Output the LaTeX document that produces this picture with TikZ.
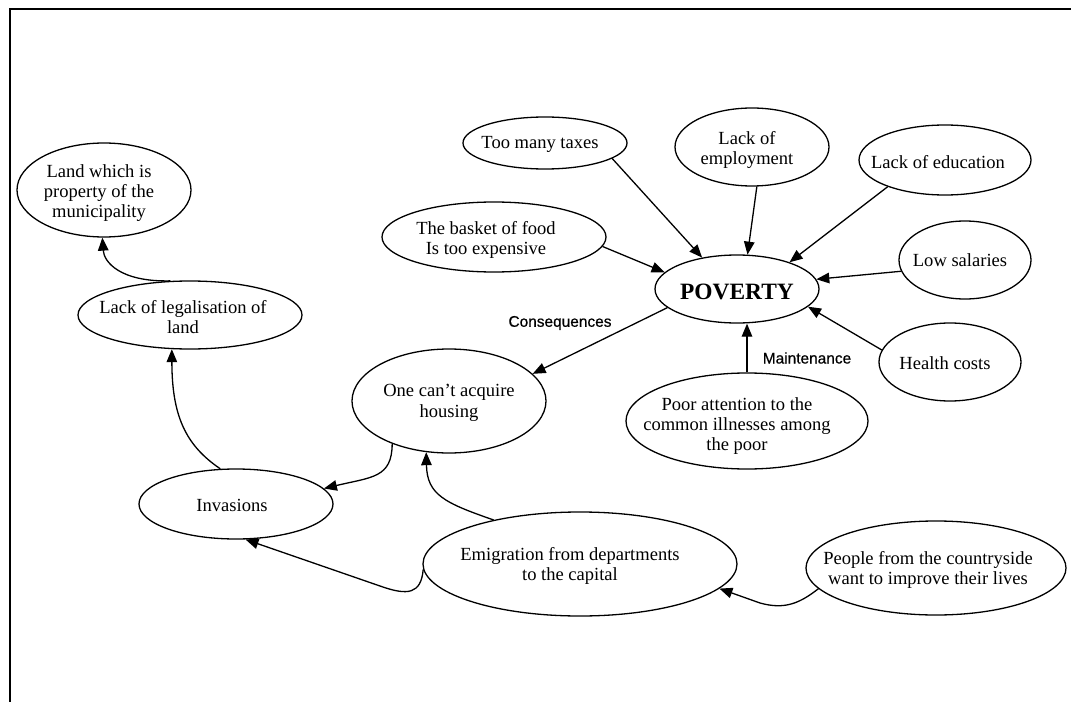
\documentclass[tikz,border=0pt]{standalone}
\usepackage{fontspec}
\setmainfont{Liberation Serif}
\newfontfamily\labfont{Liberation Sans}[FakeBold=0.6]
\usetikzlibrary{shapes.geometric,arrows.meta}
\begin{document}
\begin{tikzpicture}[x=1bp,y=-1bp,
  el/.style={draw,ellipse,line width=1.3bp,inner sep=0pt},
  tx/.style={align=center,inner sep=0pt,font=\fontsize{18.6}{20.5}\selectfont},
  lab/.style={inner sep=0pt,font=\labfont\fontsize{15.5}{18}\selectfont},
  arr/.style={line width=1.3bp,-{Triangle[length=13bp,width=10.5bp]}}]
\useasboundingbox (0,0) rectangle (1071,702);
% frame
\draw[line width=2bp] (9.5,702) -- (9.5,9.5) -- (1071,9.5);

% ellipses
\node[el,minimum width=164bp,minimum height=68bp] (pov) at (737,289) {};
\node[el,minimum width=164bp,minimum height=52bp] (tax) at (545,143) {};
\node[el,minimum width=154bp,minimum height=78bp] (emp) at (752,147) {};
\node[el,minimum width=172bp,minimum height=70bp] (edu) at (945,160) {};
\node[el,minimum width=224bp,minimum height=70bp] (bas) at (494,237) {};
\node[el,minimum width=132bp,minimum height=78bp] (low) at (965,260) {};
\node[el,minimum width=142bp,minimum height=78bp] (hea) at (950,362) {};
\node[el,minimum width=242bp,minimum height=96bp] (poor) at (747,421) {};
\node[el,minimum width=194bp,minimum height=104bp] (hou) at (449,401) {};
\node[el,minimum width=194bp,minimum height=70bp] (inv) at (236,504) {};
\node[el,minimum width=224bp,minimum height=68bp] (leg) at (190,315) {};
\node[el,minimum width=174bp,minimum height=94bp] (land) at (104,190) {};
\node[el,minimum width=314bp,minimum height=104bp] (emig) at (580,564) {};
\node[el,minimum width=260bp,minimum height=94bp] (peo) at (936,568) {};

% texts
\node[tx,font=\bfseries\fontsize{23.5}{26}\selectfont] (povT) at (737,292) {POVERTY};
\node[tx] (taxT) at (540,144) {Too many taxes};
\node[tx] (empT) at (747,150) {Lack of\\employment};
\node[tx] (eduT) at (938,162) {Lack of education};
\node[tx] (basT) at (486,240) {The basket of food\\Is too expensive};
\node[tx] (lowT) at (960,260) {Low salaries};
\node[tx] (heaT) at (945,363) {Health costs};
\node[tx] (poorT) at (737,426) {Poor attention to the\\common illnesses among\\the poor};
\node[tx] (houT) at (449,403) {One can’t acquire\\housing};
\node[tx] (invT) at (232,505) {Invasions};
\node[tx] (legT) at (183,317) {Lack of legalisation of\\land};
\node[tx] (landT) at (99,193) {Land which is\\property of the\\municipality};
\node[tx] (emigT) at (570,566) {Emigration from departments\\to the capital};
\node[tx] (peoT) at (928,570) {People from the countryside\\want to improve their lives};

% labels
\node[lab] (cons) at (560,323) {Consequences};
\node[lab] (maint) at (807,358) {Maintenance};

% arrows into POVERTY
\draw[arr] (tax.-13.6) -- (pov.138);
\draw[arr] (emp.-83) -- (pov.73.6);
\draw[arr] (edu.-155) -- (pov.27);
\draw[arr] (bas.-5) -- (pov.167);
\draw[arr] (low.-170) -- (pov.7);
\draw[arr] (hea.170.5) -- (pov.-14);
\draw[arr] (poor.north) -- (poor.north |- pov.south);
% consequences
\draw[arr] (pov.-165) -- (hou.18);
\draw[arr] (hou.-143) .. controls (392,478) and (372,477) .. (inv.10.4);
\draw[arr] (inv.114) .. controls (185,445) and (172,415) .. (leg.-118.6);
\draw[arr] (leg.120.5) .. controls (120,282) and (104,262) .. (land.-92);
\draw[arr] (emig.153.4) .. controls (445,503) and (427,495) .. (hou.-114.8);
\draw[arr] (emig.-178) .. controls (421,594) and (408,596) .. (380,586) -- (inv.-75);
\draw[arr] (peo.-170) .. controls (800,603) and (785,610) .. (760,603) -- (emig.-10);
\end{tikzpicture}
\end{document}
